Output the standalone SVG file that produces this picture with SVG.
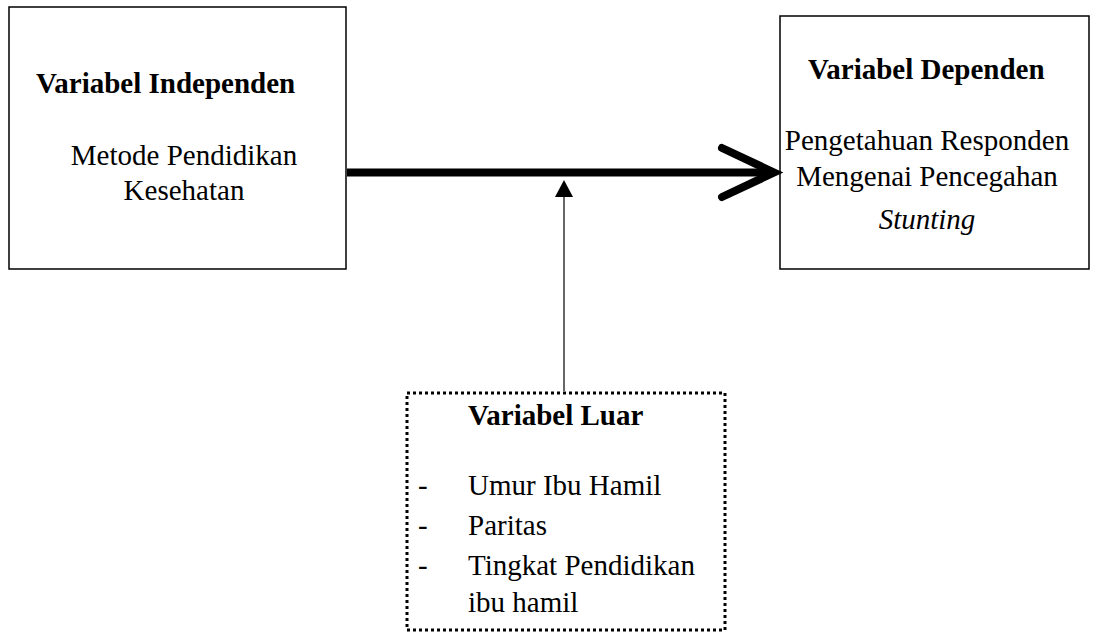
<svg xmlns="http://www.w3.org/2000/svg" width="1098" height="637" viewBox="0 0 1098 637">
<style>
.box{fill:#fff;stroke:#000;stroke-width:1.5}
.dot{fill:#fff;stroke:#000;stroke-width:3;stroke-dasharray:3 3}
text{font-family:"Liberation Serif","Times New Roman",serif;font-size:29px;fill:#000}
.b{font-weight:bold}
.c{text-anchor:middle}
.i{font-style:italic}
</style>
<g id="independen">
<rect class="box" x="9" y="7" width="337" height="262"/>
<text class="b" x="36" y="93">Variabel Independen</text>
<text class="c" x="184" y="165">Metode Pendidikan</text>
<text class="c" x="184" y="200">Kesehatan</text>
</g>
<g id="dependen">
<rect class="box" x="780" y="16" width="309" height="253"/>
<text class="b" x="808" y="79">Variabel Dependen</text>
<text class="c" x="927" y="150">Pengetahuan Responden</text>
<text class="c" x="927" y="186">Mengenai Pencegahan</text>
<text class="c i" x="927" y="229">Stunting</text>
</g>
<g id="luar">
<rect class="dot" x="407" y="393" width="318" height="237"/>
<text class="b" x="468" y="425">Variabel Luar</text>
<text x="418" y="495">-</text>
<text x="468" y="495">Umur Ibu Hamil</text>
<text x="418" y="535">-</text>
<text x="468" y="535">Paritas</text>
<text x="418" y="575">-</text>
<text x="468" y="575">Tingkat Pendidikan</text>
<text x="468" y="612">ibu hamil</text>
</g>
<g id="connectors">
<line x1="347" y1="172.5" x2="772" y2="172.5" stroke="#000" stroke-width="8"/>
<polyline points="722,148 774,172.5 722,197" fill="none" stroke="#000" stroke-width="8" stroke-linecap="round" stroke-linejoin="miter"/>
<line x1="564" y1="391" x2="564" y2="196" stroke="#000" stroke-width="1.2"/>
<path d="M555,197 L564,180 L573,197 Z" fill="#000"/>
</g>
</svg>
